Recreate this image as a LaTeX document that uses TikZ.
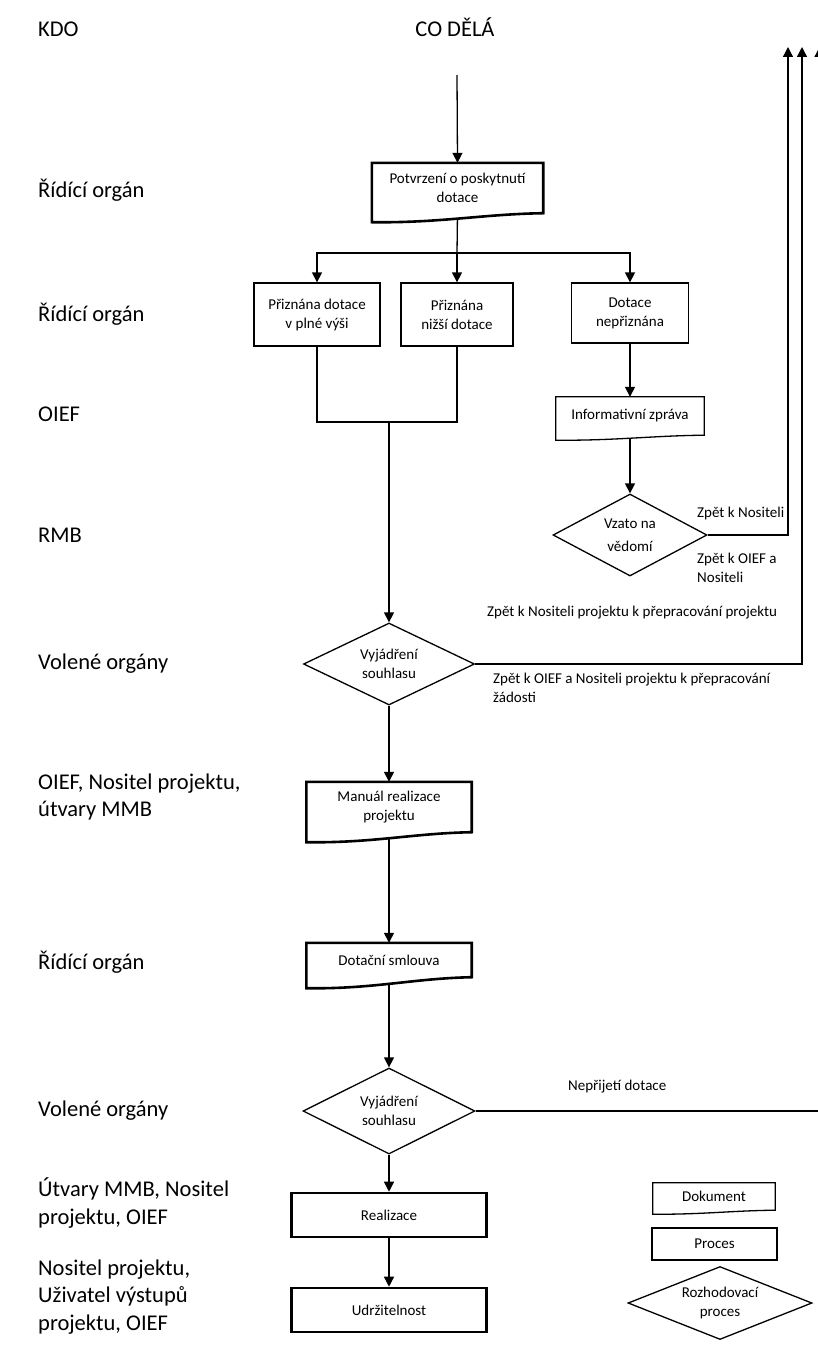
\documentclass[tikz,border=0pt]{standalone}
\usepackage{fontspec}
\setmainfont{Carlito}
\usetikzlibrary{arrows.meta,shapes.geometric,calc,backgrounds}

% outline of a flowchart "document" symbol around a node; #3 = drop of the wavy bottom at the left
\newcommand\docoutline[3][]{%
  \draw[fill=white,#1] (#2.north west) -- (#2.north east) -- (#2.south east)
    .. controls ($(#2.south east)!0.35!(#2.south west)+(0,0.1*#3)$)
           and ($(#2.south east)!0.6!(#2.south west)+(0,1.1*#3)$)
    .. ($(#2.south west)+(0,#3)$) -- cycle;}

\begin{document}
\begin{tikzpicture}[x=1pt,y=-1pt,
  every node/.style={inner sep=0pt},
  small/.style={font=\fontsize{15}{19}\selectfont},
  big/.style={font=\fontsize{22.5}{27.5}\selectfont},
  conn/.style={line width=1.3pt},
  arr/.style={conn,-{Triangle[width=10pt,length=10pt]}},
  procbox/.style={rectangle,draw,line width=1.3pt,align=center,small},
  keybox/.style={procbox,line width=2.6pt},
  docbox/.style={rectangle,align=center,small},
  decision/.style={diamond,draw,line width=1.3pt,align=center,small,shape aspect=2.5},
  who/.style={anchor=west,align=left,big},
  note/.style={anchor=west,align=left,small}]

\useasboundingbox (0,0) rectangle (817,1346);

% column headings
\node[big,anchor=base west] (hkdo) at (38,37) {KDO};
\node[big,anchor=base] (hco) at (455,37) {CO DĚLÁ};

% who is responsible
\node[who] (w1) at (38,190) {Řídící orgán};
\node[who] (w2) at (38,314) {Řídící orgán};
\node[who] (w3) at (38,414) {OIEF};
\node[who] (w4) at (38,535) {RMB};
\node[who] (w5) at (38,664) {Volené orgány};
\node[who] (w6) at (38,797) {OIEF, Nositel projektu,\\útvary MMB};
\node[who] (w7) at (38,962) {Řídící orgán};
\node[who] (w8) at (38,1111) {Volené orgány};
\node[who] (w9) at (38,1203) {Útvary MMB, Nositel\\projektu, OIEF};
\node[who] (w10) at (38,1297) {Nositel projektu,\\Uživatel výstupů\\projektu, OIEF};

% main flow
\coordinate (start) at (457,75);
\node[docbox,minimum width=171,minimum height=50] (pot) at (457.5,188) {Potvrzení o poskytnutí\\dotace};
\coordinate (split) at (457,253);
\node[procbox,minimum width=126,minimum height=63] (b1) at (317,314.5) {Přiznána dotace\\v plné výši};
\node[procbox,minimum width=112,minimum height=63] (b2) at (457,314.5) {Přiznána\\nižší dotace};
\node[procbox,minimum width=117,minimum height=60] (b3) at (630,313) {Dotace\\nepřiznána};
\node[docbox,minimum width=148,minimum height=38] (info) at (630,416) {Informativní zpráva};
\node[decision,minimum width=154,minimum height=82] (vz) at (630,535) {Vzato na\\[4pt]vědomí};
\coordinate (merge) at (389,422);
\node[decision,minimum width=171,minimum height=82] (d1) at (389,664) {Vyjádření\\souhlasu};
\node[docbox,minimum width=165,minimum height=50] (man) at (389,807) {Manuál realizace\\projektu};
\node[docbox,minimum width=165,minimum height=34] (dot) at (389,960) {Dotační smlouva};
\node[decision,minimum width=172,minimum height=86] (d2) at (389,1111) {Vyjádření\\souhlasu};
\node[keybox,minimum width=195,minimum height=44] (real) at (389,1215) {Realizace};
\node[keybox,minimum width=195,minimum height=44] (udr) at (389,1310) {Udržitelnost};

% ends of the return paths
\coordinate (up1) at (788,47);
\coordinate (up2) at (802,47);
\coordinate (up3) at (819.5,47);

% labels of the return paths
\node[note] (l1) at (697,513) {Zpět k Nositeli};
\node[note,anchor=north west] (l2) at (697,553) {Zpět k OIEF a\\Nositeli};
\node[note] (l3) at (487,613) {Zpět k Nositeli projektu k přepracování projektu};
\node[note,anchor=north west] (l4) at (493,673) {Zpět k OIEF a Nositeli projektu k přepracování\\žádosti};
\node[note] (l5) at (568,1087) {Nepřijetí dotace};

% legend
\node[docbox,minimum width=122,minimum height=27] (kdoc) at (714,1196.5) {Dokument};
\node[procbox,minimum width=125,minimum height=32] (kproc) at (714.5,1244) {Proces};
\node[decision,minimum width=184,minimum height=73] (kdec) at (720,1303) {Rozhodovací\\proces};

\begin{scope}[on background layer]
  \draw[arr] (start) -- (pot.north);
  \draw[conn] (pot.south) -- (split);
  \draw[arr] (split) -| (b1.north);
  \draw[arr] (split) -- (b2.north);
  \draw[arr] (split) -| (b3.north);
  \draw[conn] (b1.south) |- (b2.south |- merge) -- (b2.south);
  \draw[arr] (merge) -- (d1.north);
  \draw[arr] (b3.south) -- (info.north);
  \draw[arr] (info.south) -- (vz.north);
  \draw[arr] (vz.east) -| (up1);
  \draw[arr] (d1.east) -| (up2);
  \draw[arr] (d1.south) -- (man.north);
  \draw[arr] (man.south) -- (dot.north);
  \draw[arr] (dot.south) -- (d2.north);
  \draw[arr] (d2.east) -| (up3);
  \draw[arr] (d2.south) -- (real.north);
  \draw[arr] (real.south) -- (udr.north);
  % document symbols drawn over the line ends
  \docoutline[line width=2.6pt]{pot}{9}
  \docoutline[line width=1.3pt]{info}{5}
  \docoutline[line width=2.6pt]{man}{10}
  \docoutline[line width=2.6pt]{dot}{11}
  \docoutline[line width=1.3pt]{kdoc}{4}
\end{scope}
\end{tikzpicture}
\end{document}
